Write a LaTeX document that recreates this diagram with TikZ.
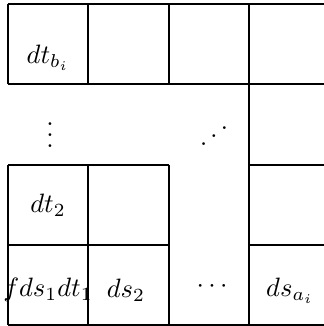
\documentclass[tikz,border=0pt]{standalone}
\usepackage{graphicx}
\begin{document}
\begin{tikzpicture}[x=0.01125cm,y=-0.01125cm,
  gridline/.style={line width=0.4pt,black},
  lbl/.style={inner sep=0pt,anchor=center,scale=0.85}]
\useasboundingbox (0,0) rectangle (324,326);
\clip (0,0) rectangle (324,326);
% horizontal lines
\draw[gridline] (8,4) -- (330,4);
\draw[gridline] (8,84) -- (330,84);
\draw[gridline] (8,165) -- (169,165);
\draw[gridline] (249,165) -- (330,165);
\draw[gridline] (8,245) -- (169,245);
\draw[gridline] (249,245) -- (330,245);
\draw[gridline] (8,325) -- (330,325);
% vertical lines
\draw[gridline] (8,4) -- (8,84);
\draw[gridline] (88,4) -- (88,84);
\draw[gridline] (169,4) -- (169,84);
\draw[gridline] (8,165) -- (8,325);
\draw[gridline] (88,165) -- (88,325);
\draw[gridline] (169,165) -- (169,325);
\draw[gridline] (249,4) -- (249,325);
% labels
\node[lbl] (dtb) at (48,58) {$dt_{b_i}$};
\node[lbl] (vd) at (50,127) {$\vdots$};
\node[lbl] (dd) at (214,128) {\reflectbox{$\ddots$}};
\node[lbl] (dt2) at (48,205) {$dt_2$};
\node[lbl] (f1) at (48,290) {$fds_1dt_1$};
\node[lbl] (ds2) at (126,290) {$ds_2$};
\node[lbl] (cd) at (212,287) {$\cdots$};
\node[lbl] (dsa) at (290,291) {$ds_{a_i}$};
\end{tikzpicture}
\end{document}
